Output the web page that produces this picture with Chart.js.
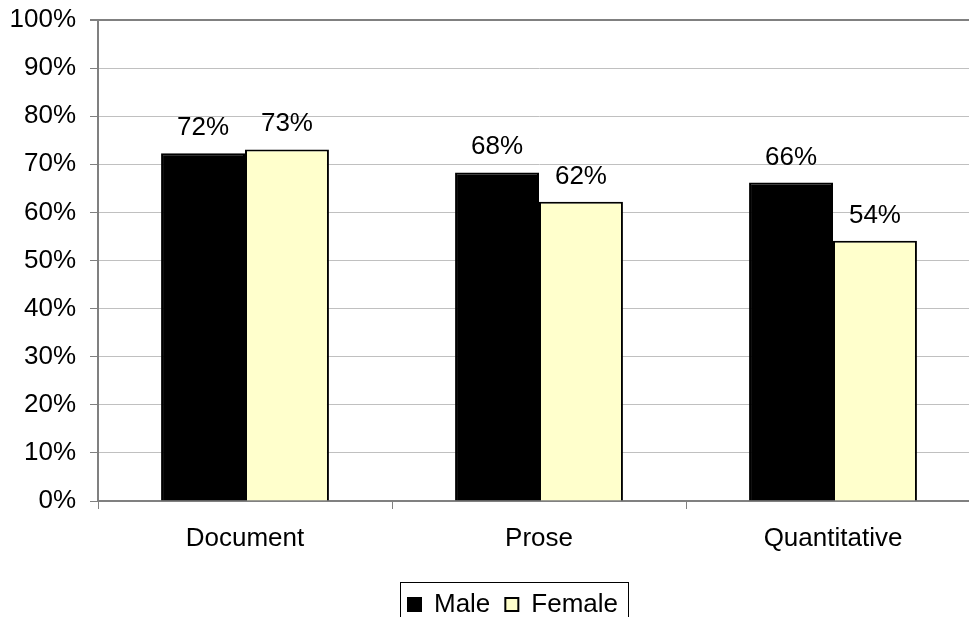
<!DOCTYPE html>
<html>
<head>
<meta charset="utf-8">
<script src="https://cdn.jsdelivr.net/npm/chart.js@4"></script>
<style>
  html, body { margin: 0; padding: 0; background: #fff; overflow: hidden; }
  #wrap { position: absolute; left: 0; top: 0; }
</style>
</head>
<body>
<div id="wrap"><canvas id="chart" width="990" height="650"></canvas></div>
<script>
const categories = ["Document", "Prose", "Quantitative"];
const seriesNames = ["Male", "Female"];
const maleValues = [72.3, 68.3, 66.2];
const femaleValues = [73.1, 62.2, 54.1];
const yTicks = [0, 10, 20, 30, 40, 50, 60, 70, 80, 90, 100];

const POLICE = "'Liberation Sans', Arial, sans-serif";
Chart.defaults.font.family = POLICE;
Chart.defaults.font.size = 26;
Chart.defaults.color = "#000";

// etiquettes au-dessus des barres
const etiquettesBarres = {
  id: "etiquettesBarres",
  afterDatasetsDraw(chart) {
    const ctx = chart.ctx;
    ctx.save();
    ctx.font = "26px " + POLICE;
    ctx.fillStyle = "#000";
    ctx.textAlign = "center";
    ctx.textBaseline = "alphabetic";
    chart.data.datasets.forEach((ds, i) => {
      chart.getDatasetMeta(i).data.forEach((bar, j) => {
        ctx.fillText(Math.round(ds.data[j]) + "%", bar.x, bar.y - 18);
      });
    });
    ctx.restore();
  }
};

// cadre autour de la légende + pas de découpe des libellés de l'axe y
const cadreLegende = {
  id: "cadreLegende",
  afterLayout(chart) {
    chart.scales.y.left = 0;
  },
  afterDraw(chart) {
    const boxes = chart.legend.legendHitBoxes;
    if (!boxes || !boxes.length) return;
    const left = Math.min(...boxes.map(b => b.left)) - 8;
    const right = Math.max(...boxes.map(b => b.left + b.width)) + 10;
    const mid = boxes[0].top + boxes[0].height / 2;
    const ctx = chart.ctx;
    ctx.save();
    ctx.strokeStyle = "#000";
    ctx.lineWidth = 1;
    ctx.strokeRect(Math.round(left) + 0.5, Math.round(mid - 23) + 0.5, Math.round(right - left), 46);
    ctx.restore();
  }
};

new Chart(document.getElementById("chart").getContext("2d"), {
  type: "bar",
  data: {
    labels: categories,
    datasets: [
      {
        label: seriesNames[0],
        data: maleValues,
        backgroundColor: "#000000",
        borderColor: "#000000",
        borderWidth: 2
      },
      {
        label: seriesNames[1],
        data: femaleValues,
        backgroundColor: "#FFFFCC",
        borderColor: "#000000",
        borderWidth: 2
      }
    ]
  },
  options: {
    responsive: false,
    animation: false,
    devicePixelRatio: 1,
    layout: { padding: { left: 46, right: 10, top: 20, bottom: 22.5 } },
    datasets: { bar: { categoryPercentage: 0.571, barPercentage: 1 } },
    scales: {
      x: {
        grid: {
          display: true,
          drawOnChartArea: false,
          offset: true,
          tickLength: 8,
          color: "#808080",
          lineWidth: 1
        },
        border: { color: "#808080", width: 2 },
        ticks: { padding: 14 },
        afterFit(scale) { scale.height = 75.5; }
      },
      y: {
        min: 0,
        max: 100,
        afterBuildTicks(scale) { scale.ticks = yTicks.map(v => ({ value: v })); },
        ticks: { padding: 14, callback: v => v + "%" },
        grid: {
          tickLength: 8,
          tickColor: "#808080",
          color: c => (c.tick && c.tick.value === 100 ? "#808080" : "#C0C0C0"),
          lineWidth: c => (c.tick && c.tick.value === 100 ? 2 : 1)
        },
        border: { color: "#808080", width: 2 },
        afterFit(scale) {
          scale.width = 52;
          scale.paddingTop = 0;
        }
      }
    },
    plugins: {
      legend: {
        position: "bottom",
        labels: {
          boxWidth: 13,
          boxHeight: 13,
          padding: 15,
          font: { size: 26 }
        }
      },
      tooltip: { enabled: false }
    }
  },
  plugins: [etiquettesBarres, cadreLegende]
});
</script>
</body>
</html>
